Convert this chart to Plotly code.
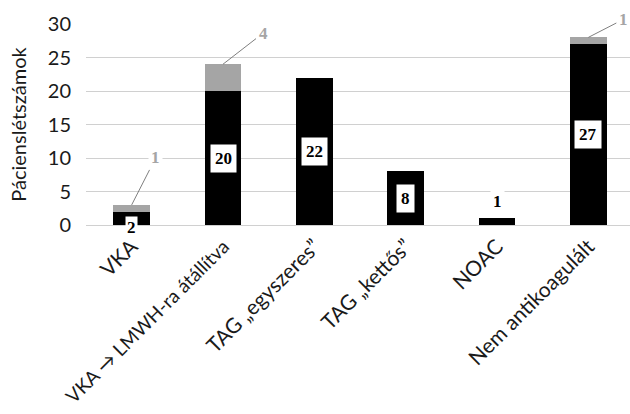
import plotly.graph_objects as go

categories = ["VKA", "VKA → LMWH-ra átállítva", "TAG „egyszeres”", "TAG „kettős”", "NOAC", "Nem antikoagulált"]
black_vals = [2, 20, 22, 8, 1, 27]
gray_vals = [1, 4, 0, 0, 0, 1]
y_ticks = [0, 5, 10, 15, 20, 25, 30]
y_title = "Pácienslétszámok"

BLACK = "#000000"
GRAY = "#A5A5A5"
FONT = "Lato"
SERIF = "Liberation Serif"

fig = go.Figure()
fig.add_trace(go.Bar(x=categories, y=black_vals, marker=dict(color=BLACK, line_width=0), width=0.4))
fig.add_trace(go.Bar(x=categories, y=gray_vals, marker=dict(color=GRAY, line_width=0), width=0.4))

annotations = []
for i, (c, v) in enumerate(zip(categories, black_vals)):
    if v >= 5:
        annotations.append(dict(x=c, y=v / 2, text=f"<b>{v}</b>", showarrow=False,
                                font=dict(family=SERIF, size=17, color=BLACK),
                                bgcolor="white", borderpad=4))
    elif v == 2:
        annotations.append(dict(x=c, y=0, text=f"<b>{v}</b>", showarrow=False,
                                font=dict(family=SERIF, size=17, color=BLACK),
                                bgcolor="white", borderpad=1, yshift=-2))
    else:
        annotations.append(dict(x=c, y=v, text=f"<b>{v}</b>", showarrow=False,
                                font=dict(family=SERIF, size=17, color=BLACK),
                                bgcolor="white", borderpad=2, yshift=17))

offsets = {0: (24, -47), 1: (40, -31), 5: (35, -18)}
for i, (c, b, g) in enumerate(zip(categories, black_vals, gray_vals)):
    if g > 0:
        ax, ay = offsets[i]
        annotations.append(dict(x=c, y=b + g, text=f"<b>{g}</b>", showarrow=True,
                                arrowhead=0, arrowwidth=1, arrowcolor="#7f7f7f",
                                ax=ax, ay=ay, standoff=0,
                                font=dict(family=SERIF, size=17, color=GRAY),
                                bgcolor="white", borderpad=2))

# the long label gets a slightly smaller size so it fits like the reference
tick_text = [f'<span style="font-size:19px">{c}</span>' if len(c) > 20 else c for c in categories]

fig.update_layout(
    barmode="stack",
    width=634, height=414,
    margin=dict(l=86, r=0, t=24, b=189),
    paper_bgcolor="white", plot_bgcolor="white",
    showlegend=False,
    annotations=annotations,
    font=dict(family=FONT, size=18, color="#1a1a1a"),
    xaxis=dict(tickangle=-45, tickfont=dict(family=FONT, size=21, color="#1a1a1a"),
               tickvals=categories, ticktext=tick_text,
               showline=True, linecolor="#d0d0d0", linewidth=1, ticks="", showgrid=False,
               automargin=False),
    yaxis=dict(range=[0, 30], tickvals=y_ticks, tickfont=dict(family=FONT, size=20, color="#1a1a1a"),
               ticklabelstandoff=14, automargin=False,
               gridcolor="#d0d0d0", gridwidth=1, zeroline=False, ticks="",
               title=dict(text=y_title, font=dict(family=FONT, size=20, color="#1a1a1a"), standoff=15)),
)

fig.write_html("out.html", config={"displayModeBar": False},
               post_script="document.body.style.margin='0';document.body.style.overflow='hidden';")
